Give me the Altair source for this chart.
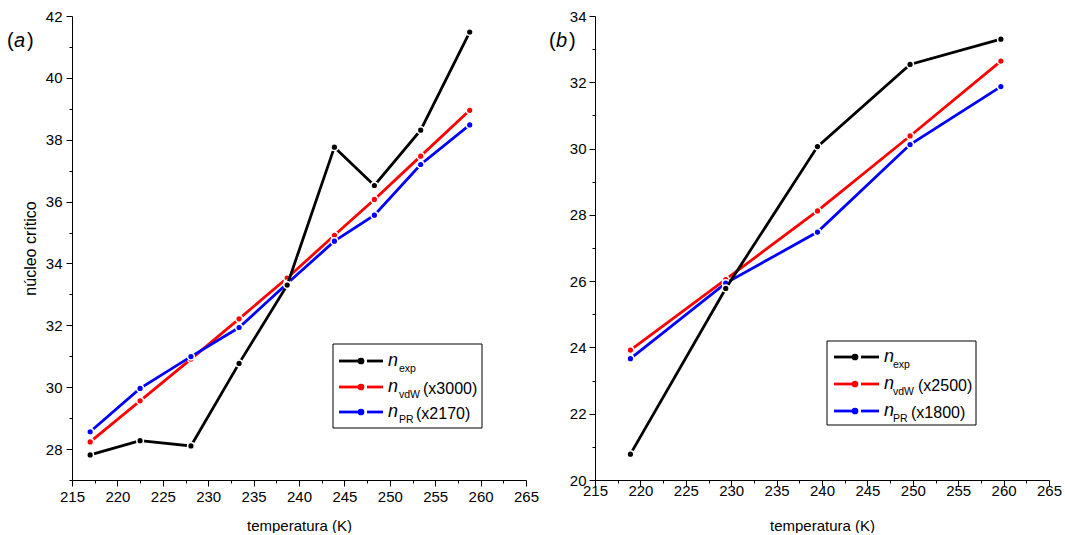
import altair as alt
import pandas as pd

# ---------------- data ----------------
# Panel (a)
temp_a = [217.0, 222.5, 228.1, 233.4, 238.7, 243.9, 248.3, 253.4, 258.8]
nexp_a = [27.81, 28.27, 28.10, 30.77, 33.30, 37.76, 36.52, 38.31, 41.48]
nvdw_a = [28.23, 29.56, 30.91, 32.21, 33.53, 34.91, 36.07, 37.47, 38.95]
npr_a = [28.56, 29.96, 30.99, 31.93, 33.35, 34.72, 35.56, 37.20, 38.48]

# Panel (b)
temp_b = [218.9, 229.4, 239.5, 249.7, 259.7]
nexp_b = [20.78, 25.78, 30.06, 32.54, 33.30]
nvdw_b = [23.92, 26.05, 28.12, 30.38, 32.64]
npr_b = [23.66, 25.94, 27.48, 30.12, 31.87]

series_keys = ["exp", "vdW", "PR"]
series_colors = ["#000000", "#ff0000", "#0000ff"]
factors_a = ["", "(x3000)", "(x2170)"]
factors_b = ["", "(x2500)", "(x1800)"]

x_major = [215, 220, 225, 230, 235, 240, 245, 250, 255, 260, 265]
x_minor = [217.5, 222.5, 227.5, 232.5, 237.5, 242.5, 247.5, 252.5, 257.5, 262.5]
y_major_a = [28, 30, 32, 34, 36, 38, 40, 42]
y_minor_a = [27, 29, 31, 33, 35, 37, 39, 41]
y_major_b = [20, 22, 24, 26, 28, 30, 32, 34]
y_minor_b = [21, 23, 25, 27, 29, 31, 33]

x_title = "temperatura (K)"
y_title = "núcleo crítico"

FONT = "Liberation Sans"
W, H = 454, 464
ONE = pd.DataFrame({"k": [0]})


def long_table(temps, series):
    rows = []
    for key, vals in zip(series_keys, series):
        for t, v in zip(temps, vals):
            rows.append({"T": t, "n": v, "s": key})
    return pd.DataFrame(rows)


def legend_layers(L, factors):
    out = [
        alt.Chart(ONE).mark_rect(fill="white", stroke="black", strokeWidth=1).encode(
            x=alt.value(L["x0"]), x2=alt.value(L["x1"]),
            y=alt.value(L["y0"]), y2=alt.value(L["y1"]))
    ]
    for i, key in enumerate(series_keys):
        yy = L["rows"][i]
        c = series_colors[i]
        out.append(alt.Chart(ONE).mark_rule(color=c, strokeWidth=2.8).encode(
            x=alt.value(L["l0"]), x2=alt.value(L["pt"]), y=alt.value(yy)))
        out.append(alt.Chart(ONE).mark_rule(color=c, strokeWidth=2.8).encode(
            x=alt.value(L["r0"]), x2=alt.value(L["r1"]), y=alt.value(yy)))
        out.append(alt.Chart(ONE).mark_circle(color=c, size=45, opacity=1).encode(
            x=alt.value(L["pt"]), y=alt.value(yy)))
        out.append(alt.Chart(ONE).mark_text(
            text="n", fontStyle="italic", fontSize=18, align="left",
            baseline="alphabetic", color="black", font=FONT).encode(
            x=alt.value(L["n"]), y=alt.value(yy + 5)))
        out.append(alt.Chart(ONE).mark_text(
            text=key, fontSize=10.5, align="left", baseline="alphabetic",
            color="black", font=FONT).encode(
            x=alt.value(L["sub"]), y=alt.value(yy + 11)))
        if factors[i]:
            out.append(alt.Chart(ONE).mark_text(
                text=factors[i], fontSize=16, align="left", baseline="alphabetic",
                color="black", font=FONT).encode(
                x=alt.value(L["fac"][i]), y=alt.value(yy + 7)))
    return out


def panel_label(letter, xs, yb):
    parts = [("(", "normal"), (letter, "italic"), (")", "normal")]
    out = []
    for (txt, style), xx in zip(parts, xs):
        out.append(alt.Chart(ONE).mark_text(
            text=txt, fontStyle=style, fontSize=20, align="left",
            baseline="alphabetic", color="black", font=FONT).encode(
            x=alt.value(xx), y=alt.value(yb)))
    return out


def make_panel(temps, series, ydom, ymaj, ymin, ytitle, L, factors, label,
               lab_xs, lab_y, xlab_pad, xtitle_pad, ylab_pad):
    df = long_table(temps, series)
    xs = alt.Scale(domain=[215, 265], nice=False, zero=False)
    ys = alt.Scale(domain=ydom, nice=False, zero=False)

    y_axis_kw = dict(values=ymaj, orient="left", tickSize=6, labelPadding=ylab_pad,
                     grid=False, labelFlush=False, labelOverlap=False, format="d")
    if ytitle:
        y_axis_kw.update(title=ytitle, titlePadding=7, titleFontSize=16)
    else:
        y_axis_kw.update(title=None)

    major = alt.Chart(df).mark_point(opacity=0).encode(
        x=alt.X("T:Q", scale=xs, axis=alt.Axis(
            values=x_major, orient="bottom", title=x_title, tickSize=6,
            labelPadding=xlab_pad, titlePadding=xtitle_pad, grid=False,
            labelFlush=False, labelOverlap=False, format="d")),
        y=alt.Y("n:Q", scale=ys, axis=alt.Axis(**y_axis_kw)),
    )
    minor = alt.Chart(df).mark_point(opacity=0).encode(
        x=alt.X("T:Q", scale=xs, axis=alt.Axis(
            values=x_minor, orient="bottom", title=None, tickSize=3,
            labels=False, domain=False, grid=False)),
        y=alt.Y("n:Q", scale=ys, axis=alt.Axis(
            values=ymin, orient="left", title=None, tickSize=3,
            labels=False, domain=False, grid=False)),
    )
    layers = [major, minor]
    for key, col in zip(["vdW", "PR", "exp"], ["#ff0000", "#0000ff", "#000000"]):
        sub = df[df["s"] == key]
        base = alt.Chart(sub).encode(
            x=alt.X("T:Q", scale=xs, axis=None),
            y=alt.Y("n:Q", scale=ys, axis=None),
        )
        layers.append(base.mark_line(color=col, strokeWidth=2.8))
        layers.append(base.mark_circle(color=col, size=45, opacity=1,
                                       stroke="white", strokeWidth=1.5))
    layers += legend_layers(L, factors)
    layers += panel_label(label, lab_xs, lab_y)
    return alt.layer(*layers).resolve_axis(x="independent", y="independent").properties(
        width=W, height=H)


legend_a = dict(x0=261, x1=410, y0=328, y1=412, rows=[345, 371, 396],
                l0=267, pt=289, r0=295, r1=311, n=316, sub=327,
                fac=[0, 351, 344])
legend_b = dict(x0=232, x1=381, y0=325, y1=409, rows=[341, 368, 395],
                l0=239, pt=260, r0=266, r1=284, n=289, sub=298,
                fac=[0, 323, 316])

panel_a = make_panel(temp_a, [nexp_a, nvdw_a, npr_a], [27, 42], y_major_a, y_minor_a,
                     y_title, legend_a, factors_a, "a", [-65, -58, -45], 31,
                     3, 14, 4)
panel_b = make_panel(temp_b, [nexp_b, nvdw_b, npr_b], [20, 34], y_major_b, y_minor_b,
                     None, legend_b, factors_b, "b", [-46, -39, -26], 31,
                     -3, 20, 3)

chart = alt.hconcat(panel_a, panel_b, spacing=10).properties(
    padding={"left": 7, "top": 9, "right": 0, "bottom": 0}
).configure(font=FONT).configure_view(stroke=None).configure_axis(
    labelFont=FONT, titleFont=FONT, labelFontSize=15, titleFontSize=15,
    titleFontWeight="normal", domainColor="black", tickColor="black",
    labelColor="black", titleColor="black", domainWidth=1, tickWidth=1
)

chart.save("out.html", embed_options={"renderer": "svg", "actions": False})
